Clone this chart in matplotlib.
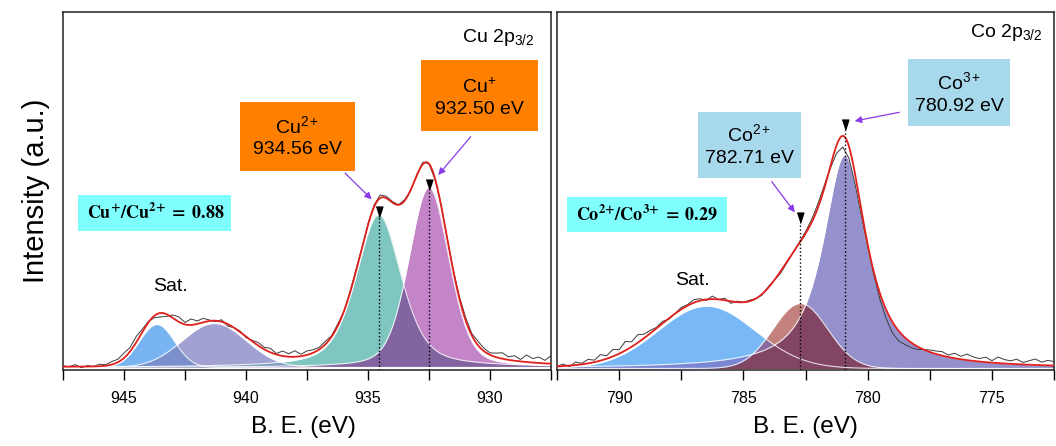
import numpy as np
import matplotlib.pyplot as plt
from matplotlib.patches import Rectangle
from matplotlib.ticker import MultipleLocator

plt.rcParams['font.family'] = ['Liberation Sans', 'DejaVu Sans']
plt.rcParams['mathtext.fontset'] = 'custom'
plt.rcParams['mathtext.rm'] = 'Liberation Sans'
plt.rcParams['mathtext.it'] = 'Liberation Sans:italic'
plt.rcParams['mathtext.bf'] = 'Liberation Sans:bold'

# Cu 2p3/2 fit: satellite 1, satellite 2, Cu2+, Cu+
cu_center = [943.65, 941.30, 934.56, 932.50]
cu_height = [43.0, 44.0, 152.7, 180.0]
cu_fwhm = [1.7, 3.1, 2.2, 1.95]
cu_eta = [0.0, 0.0, 0.5, 0.3]
cu_base = 2.5
cu_ratio = 0.88
cu_mark_level = [153.3, 180.5]   # tips of the ▼ markers (Cu2+, Cu+)
# raw spectrum = fit + residuals (0.25 eV steps, 947.5 -> 927.5)
cu_resid = [1, 0, 2, -1, 1, 0, 2, 1, 3,
            3, 5, 4, 6, 3,
            1, -2, -4, -2, 3, 5, 2, 6, 3,
            4, 1, -1, 2, -2, 0, 1, -1, 1,
            3, 2, 4, 1, 5, 3, 6, 2, 4, 3, 2,
            3, 1, 2, 0, 1, 2, 0,
            1, 2, 3, 2, 1,
            0, 1, -1, 1, 2, 0, -1, 1,
            0, 1, 2, 3, 2, 4, 3, 2,
            4, 6, 3, 5, 2, 7, 4, 6, 3, 8]

# Co 2p3/2 fit: satellite, Co2+, Co3+
co_center = [786.48, 782.71, 780.92]
co_height = [62.3, 65.0, 213.0]
co_fwhm = [4.6, 2.6, 2.1]
co_eta = [0.0, 0.0, 0.9]
co_base = 1.5
co_ratio = 0.29
co_mark_level = [147.0, 240.0]   # tips of the ▼ markers (Co2+, Co3+)
# raw spectrum residuals (0.25 eV steps, 792.5 -> 772.5)
co_resid = [0, 2, -1, 3, 1, 4, 2, 6, 3, 7, 4, 9, 5, 8, 4,
            3, 1, 2, -1, 0, 2, 1, 3,
            2, -1, 3, 0, 2, -2, 1, 0,
            1, 0, -1, 1, 0, -2, -1, 0, 1, 2, 3, 4,
            3, -2, -8, -11, -12, -10, -6, -3,
            -3, -6, -9, -11, -10, -7, -5, -3,
            0, 2, 3, 4, 2, 5, 3, 6, 4, 3, 5, 2, 6, 4, 3, 5, 2, 4, 6, 3, 5, 4]


def pvoigt(x, c, h, f, eta):
    d2 = 4 * (x - c) ** 2 / f ** 2
    return h * ((1 - eta) * np.exp(-np.log(2) * d2) + eta / (1 + d2))


def draw_panel(ax, xlim, centers, heights, fwhms, etas, base, resid,
               colors, overlaps, marked, mark_level):
    x = np.linspace(xlim[0], xlim[1], 1200)
    comps = [pvoigt(x, c, h, f, e) for c, h, f, e in zip(centers, heights, fwhms, etas)]
    env = base + np.sum(comps, axis=0)

    for comp, col in zip(comps, colors):
        ax.fill_between(x, base, base + comp, color=col, lw=0, zorder=1)
    for i, j, col in overlaps:
        ax.fill_between(x, base, base + np.minimum(comps[i], comps[j]), color=col, lw=0, zorder=1.5)
    for comp in comps:
        ax.plot(x, base + comp, color='white', lw=0.8, alpha=0.8, zorder=2)

    xr = np.linspace(xlim[0], xlim[1], len(resid))
    env_r = base + np.sum([pvoigt(xr, c, h, f, e) for c, h, f, e
                           in zip(centers, heights, fwhms, etas)], axis=0)
    ax.plot(xr, env_r + np.array(resid), color='#3c3c3c', lw=0.7, zorder=3)
    ax.plot(x, env, color='#e0201c', lw=1.3, zorder=4)

    tri = [(-0.32, 1), (0.32, 1), (0, 0)]
    for k, top in zip(marked, mark_level):
        c = centers[k]
        ax.plot([c, c], [0, top], color='black', ls=':', lw=1.0, zorder=5)
        ax.plot(c, top, marker=tri, ms=15, color='black', mec='black', zorder=6)

    ax.set_xlim(*xlim)
    ax.set_ylim(0, 358)
    ax.set_yticks([])
    ax.xaxis.set_major_locator(MultipleLocator(5))
    ax.xaxis.set_minor_locator(MultipleLocator(2.5))
    ax.tick_params(axis='x', which='both', direction='out', length=7, width=1,
                   labelsize=11.5, pad=8, top=False)
    for s in ax.spines.values():
        s.set_linewidth(1.1)
        s.set_color('#222222')


def box(ax, x0, x1, y0, y1, color):
    ax.add_patch(Rectangle((x0, y0), x1 - x0, y1 - y0, transform=ax.transAxes,
                           facecolor=color, edgecolor='none', zorder=7))


def arrow(ax, head, tail):
    ax.annotate('', xy=head, xycoords='data', xytext=tail, textcoords='axes fraction',
                arrowprops=dict(arrowstyle='-|>', color='#8a3ae6', lw=0.9,
                                mutation_scale=10, shrinkA=0, shrinkB=0), zorder=8)


fig = plt.figure(figsize=(10.56, 4.46), dpi=100)
ax1 = fig.add_axes([63 / 1056, 76 / 446, 488 / 1056, 358 / 446])
ax2 = fig.add_axes([557 / 1056, 76 / 446, 497 / 1056, 358 / 446])

draw_panel(ax1, (947.5, 927.5), cu_center, cu_height, cu_fwhm, cu_eta, cu_base, cu_resid,
           ['#78b4f0', '#a2a2d2', '#80c6c0', '#c384c8'],
           [(0, 1, '#7a8fcc'), (1, 2, '#7c9cc0'), (2, 3, '#8264a0')],
           [2, 3], cu_mark_level)
draw_panel(ax2, (792.5, 772.5), co_center, co_height, co_fwhm, co_eta, co_base, co_resid,
           ['#78b9f5', '#c3827d', '#9591cd'],
           [(0, 1, '#8a6a9a'), (0, 2, '#7a86d2'), (1, 2, '#824664')],
           [1, 2], co_mark_level)

orange = '#ff8000'
lblue = '#a8d8ec'
cyan = '#80ffff'

# left panel annotations
box(ax1, 0.0307, 0.3443, 0.388, 0.489, cyan)
ax1.text(0.1895, 0.438, r'$\mathbf{Cu^{{+}}/Cu^{2{+}}\;=\;%.2f}$' % cu_ratio,
         transform=ax1.transAxes, ha='center', va='center', fontsize=13,
         math_fontfamily='stix', zorder=9)
box(ax1, 0.3627, 0.5984, 0.5559, 0.7486, orange)
ax1.text(0.4805, 0.661, r'Cu$^{2+}$', transform=ax1.transAxes, ha='center', va='baseline',
         fontsize=14, zorder=9)
ax1.text(0.4805, 0.615, '%.2f eV' % cu_center[2], transform=ax1.transAxes, ha='center',
         va='center', fontsize=14, zorder=9)
box(ax1, 0.7336, 0.9734, 0.6676, 0.8659, orange)
ax1.text(0.8525, 0.774, r'Cu$^{+}$', transform=ax1.transAxes, ha='center', va='baseline',
         fontsize=14, zorder=9)
ax1.text(0.8525, 0.729, '%.2f eV' % cu_center[3], transform=ax1.transAxes, ha='center',
         va='center', fontsize=14, zorder=9)
arrow(ax1, (934.85, 170.7), (0.578, 0.550))
arrow(ax1, (932.12, 195.0), (0.8355, 0.6517))
ax1.text(0.967, 0.917, r'Cu 2p$_{3/2}$', transform=ax1.transAxes, ha='right', va='baseline',
         fontsize=14)
ax1.text(0.221, 0.232, 'Sat.', transform=ax1.transAxes, ha='center', va='center', fontsize=14)

# right panel annotations
box(ax2, 0.0201, 0.3421, 0.3855, 0.4832, cyan)
ax2.text(0.181, 0.433, r'$\mathbf{Co^{2{+}}/Co^{3{+}}\;=\;%.2f}$' % co_ratio,
         transform=ax2.transAxes, ha='center', va='center', fontsize=13,
         math_fontfamily='stix', zorder=9)
box(ax2, 0.2837, 0.4909, 0.5363, 0.7207, lblue)
ax2.text(0.3873, 0.638, r'Co$^{2+}$', transform=ax2.transAxes, ha='center', va='baseline',
         fontsize=14, zorder=9)
ax2.text(0.3873, 0.592, '%.2f eV' % co_center[1], transform=ax2.transAxes, ha='center',
         va='center', fontsize=14, zorder=9)
box(ax2, 0.7062, 0.9115, 0.6816, 0.8687, lblue)
ax2.text(0.8089, 0.785, r'Co$^{3+}$', transform=ax2.transAxes, ha='center', va='baseline',
         fontsize=14, zorder=9)
ax2.text(0.8089, 0.737, '%.2f eV' % co_center[2], transform=ax2.transAxes, ha='center',
         va='center', fontsize=14, zorder=9)
arrow(ax2, (782.93, 157.7), (0.432, 0.526))
arrow(ax2, (780.52, 249.0), (0.6887, 0.7198))
ax2.text(0.976, 0.929, r'Co 2p$_{3/2}$', transform=ax2.transAxes, ha='right', va='baseline',
         fontsize=14)
ax2.text(0.273, 0.249, 'Sat.', transform=ax2.transAxes, ha='center', va='center', fontsize=14)

fig.text(303 / 1056, 19 / 446, 'B. E. (eV)', ha='center', va='center', fontsize=17.5)
fig.text(805 / 1056, 19 / 446, 'B. E. (eV)', ha='center', va='center', fontsize=17.5)
fig.text(36 / 1056, 0.572, 'Intensity (a.u.)', rotation=90, ha='center', va='center',
         fontsize=21)

fig.savefig('out.png', dpi=100)
